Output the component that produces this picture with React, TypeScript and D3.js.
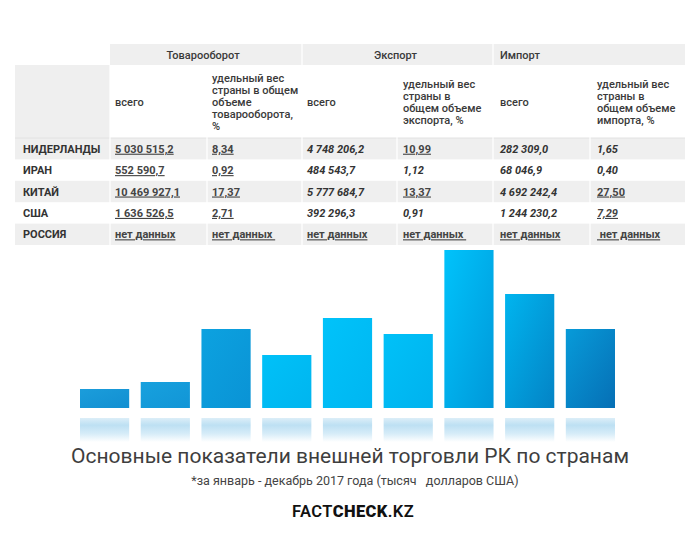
import React from "react";
import * as d3 from "d3";

// ---------- data ----------
const countries = ["НИДЕРЛАНДЫ", "ИРАН", "КИТАЙ", "США", "РОССИЯ"];
const tradeTotal = ["5 030 515,2", "552 590,7", "10 469 927,1", "1 636 526,5", "нет данных"];
const tradeShare = ["8,34", "0,92", "17,37", "2,71", "нет данных "];
const exportTotal = ["4 748 206,2", "484 543,7", "5 777 684,7", "392 296,3", "нет данных"];
const exportShare = ["10,99", "1,12", "13,37", "0,91", "нет данных "];
const importTotal = ["282 309,0", "68 046,9", "4 692 242,4", "1 244 230,2", "нет данных"];
const importShare = ["1,65", "0,40", "27,50", "7,29", " нет данных"];

const groupHeaders = ["Товарооборот", "Экспорт", "Импорт"];
const subHeaders: string[][] = [
  ["всего"],
  ["удельный вес", "страны в общем", "объеме", "товарооборота,", "%"],
  ["всего"],
  ["удельный вес", "страны в", "общем объеме", "экспорта, %"],
  ["всего"],
  ["удельный вес", "страны в", "общем объеме", "импорта, %"],
];

// decorative bars (relative heights)
const barValues = [19, 26, 79, 53, 90, 74, 158, 114, 79];

const title = "Основные показатели внешней торговли РК по странам";
const subtitle = "*за январь - декабрь 2017 года (тысяч   долларов США)";

// ---------- styles (kept separate from data) ----------
// u = underline, i = italic
const cellStyles = [
  ["u", "u", "u", "u", "u"],
  ["u", "u", "u", "u", "u"],
  ["i", "i", "i", "i", "u"],
  ["u", "i", "u", "i", "u"],
  ["i", "i", "i", "i", "u"],
  ["i", "i", "u", "ui", "u"],
];
const barColors = [
  ["#1b9ddb", "#128fd1"],
  ["#17a1de", "#1295d6"],
  ["#0ca2e0", "#0a93d5"],
  ["#00c1f8", "#00b5ef"],
  ["#00c3fa", "#00b6f1"],
  ["#00c1f8", "#00b2ee"],
  ["#00c3fb", "#0098d9"],
  ["#00b5ef", "#0483c5"],
  ["#079bd9", "#066fb5"],
];

const W = 700;
const H = 539;
const FONT = "Roboto, 'Noto Sans', sans-serif";
const GRAY = "#efefef";
const colEdges = [15, 110, 207, 302, 397, 493, 590, 685];
const colPad = [8, 5, 5, 5, 6, 7, 7];

export default function App() {
  const columns = [tradeTotal, tradeShare, exportTotal, exportShare, importTotal, importShare];

  const rowY = d3.scaleBand<string>().domain(countries).range([138, 245]).padding(0);

  const barX = d3
    .scaleBand<number>()
    .domain(barValues.map((_, i) => i))
    .range([80, 615])
    .paddingInner(0.19)
    .paddingOuter(0);
  const barBase = 408;
  const barY = d3.scaleLinear().domain([0, 158]).range([barBase, 250]);

  const groupSpans = [
    { x: (colEdges[1] + colEdges[3]) / 2 - 3, anchor: "middle" },
    { x: (colEdges[3] + colEdges[5]) / 2 - 2, anchor: "middle" },
    { x: colEdges[5] + 7, anchor: "start" },
  ];

  return (
    <svg
      width={W}
      height={H}
      viewBox={`0 0 ${W} ${H}`}
      style={{ position: "absolute", left: 0, top: 0, background: "#fff" }}
      fontFamily={FONT}
    >
      <defs>
        {barColors.map((c, i) => (
          <linearGradient key={i} id={`bar${i}`} x1="0" y1="0" x2="1" y2="1">
            <stop offset="0" stopColor={c[0]} />
            <stop offset="1" stopColor={c[1]} />
          </linearGradient>
        ))}
        <linearGradient id="refl" x1="0" y1="0" x2="0" y2="1">
          <stop offset="0" stopColor="#dceef8" />
          <stop offset="0.3" stopColor="#bde0f3" />
          <stop offset="0.65" stopColor="#d6ecf8" />
          <stop offset="1" stopColor="#ffffff" />
        </linearGradient>
      </defs>
      <rect x={0} y={0} width={W} height={H} fill="#fff" />

      {/* ---------- table ---------- */}
      <rect x={colEdges[1]} y={44} width={colEdges[7] - colEdges[1]} height={21} fill={GRAY} />
      <rect x={colEdges[0]} y={65} width={colEdges[1] - colEdges[0]} height={73} fill={GRAY} />
      {countries.map((c, r) =>
        r % 2 === 0 ? (
          <rect
            key={c}
            x={colEdges[0]}
            y={rowY(c)!}
            width={colEdges[7] - colEdges[0]}
            height={rowY.bandwidth()}
            fill={GRAY}
          />
        ) : null
      )}
      <line x1={colEdges[0]} x2={colEdges[7]} y1={138} y2={138} stroke="#e2e2e2" strokeWidth={1} />
      {[colEdges[3], colEdges[5]].map((x, i) => (
        <line key={`g${i}`} x1={x} x2={x} y1={44} y2={65} stroke="#fff" strokeWidth={1.2} />
      ))}
      {colEdges.slice(1, 7).map((x, i) => (
        <line key={i} x1={x} x2={x} y1={65} y2={245} stroke="#fff" strokeWidth={1.2} />
      ))}

      {groupHeaders.map((g, i) => (
        <text
          key={g}
          x={groupSpans[i].x}
          y={58.5}
          textAnchor={groupSpans[i].anchor as any}
          fontSize={11}
          fontWeight={500}
          fill="#3a3a3a"
        >
          {g}
        </text>
      ))}

      {subHeaders.map((lines, ci) => {
        const lh = 12;
        const y0 = 102 - ((lines.length - 1) * lh) / 2 + 4;
        return (
          <text key={ci} fontSize={11} fontWeight={500} fill="#3a3a3a">
            {lines.map((l, li) => (
              <tspan key={li} x={colEdges[ci + 1] + colPad[ci + 1]} y={y0 + li * lh}>
                {l}
              </tspan>
            ))}
          </text>
        );
      })}

      {countries.map((c) => (
        <text
          key={c}
          x={colEdges[0] + colPad[0]}
          y={rowY(c)! + rowY.bandwidth() / 2 + 4}
          fontSize={11}
          fontWeight={700}
          fill="#333"
        >
          {c}
        </text>
      ))}

      {columns.map((col, ci) =>
        col.map((v, r) => {
          const st = cellStyles[ci][r];
          return (
            <text
              key={`${ci}-${r}`}
              x={colEdges[ci + 1] + colPad[ci + 1]}
              y={rowY(countries[r])! + rowY.bandwidth() / 2 + 4}
              fontSize={11}
              fontWeight={700}
              fontStyle={st.includes("i") ? "italic" : "normal"}
              textDecoration={st.includes("u") ? "underline" : "none"}
              fill={st.includes("u") ? "#444" : "#333"}
              style={{ whiteSpace: "pre" }}
            >
              {v}
            </text>
          );
        })
      )}

      {/* ---------- decorative bars ---------- */}
      {barValues.map((v, i) => (
        <g key={i}>
          <rect
            x={barX(i)!}
            y={barY(v)}
            width={barX.bandwidth()}
            height={barBase - barY(v)}
            fill={`url(#bar${i})`}
          />
          <rect x={barX(i)!} y={418} width={barX.bandwidth()} height={24} fill="url(#refl)" />
        </g>
      ))}

      {/* ---------- titles ---------- */}
      <text x={350} y={463} textAnchor="middle" fontSize={21} fill="#3e3e3e">
        {title}
      </text>
      <text
        x={355}
        y={485}
        textAnchor="middle"
        fontSize={12.5}
        fill="#444"
        style={{ whiteSpace: "pre" }}
      >
        {subtitle}
      </text>
      <text x={353} y={516.5} textAnchor="middle" fontSize={16.5} fill="#111" letterSpacing={0.4}>
        <tspan fontWeight={600}>FACT</tspan>
        <tspan fontWeight={900}>CHECK</tspan>
        <tspan fontWeight={600}>.KZ</tspan>
      </text>
    </svg>
  );
}
